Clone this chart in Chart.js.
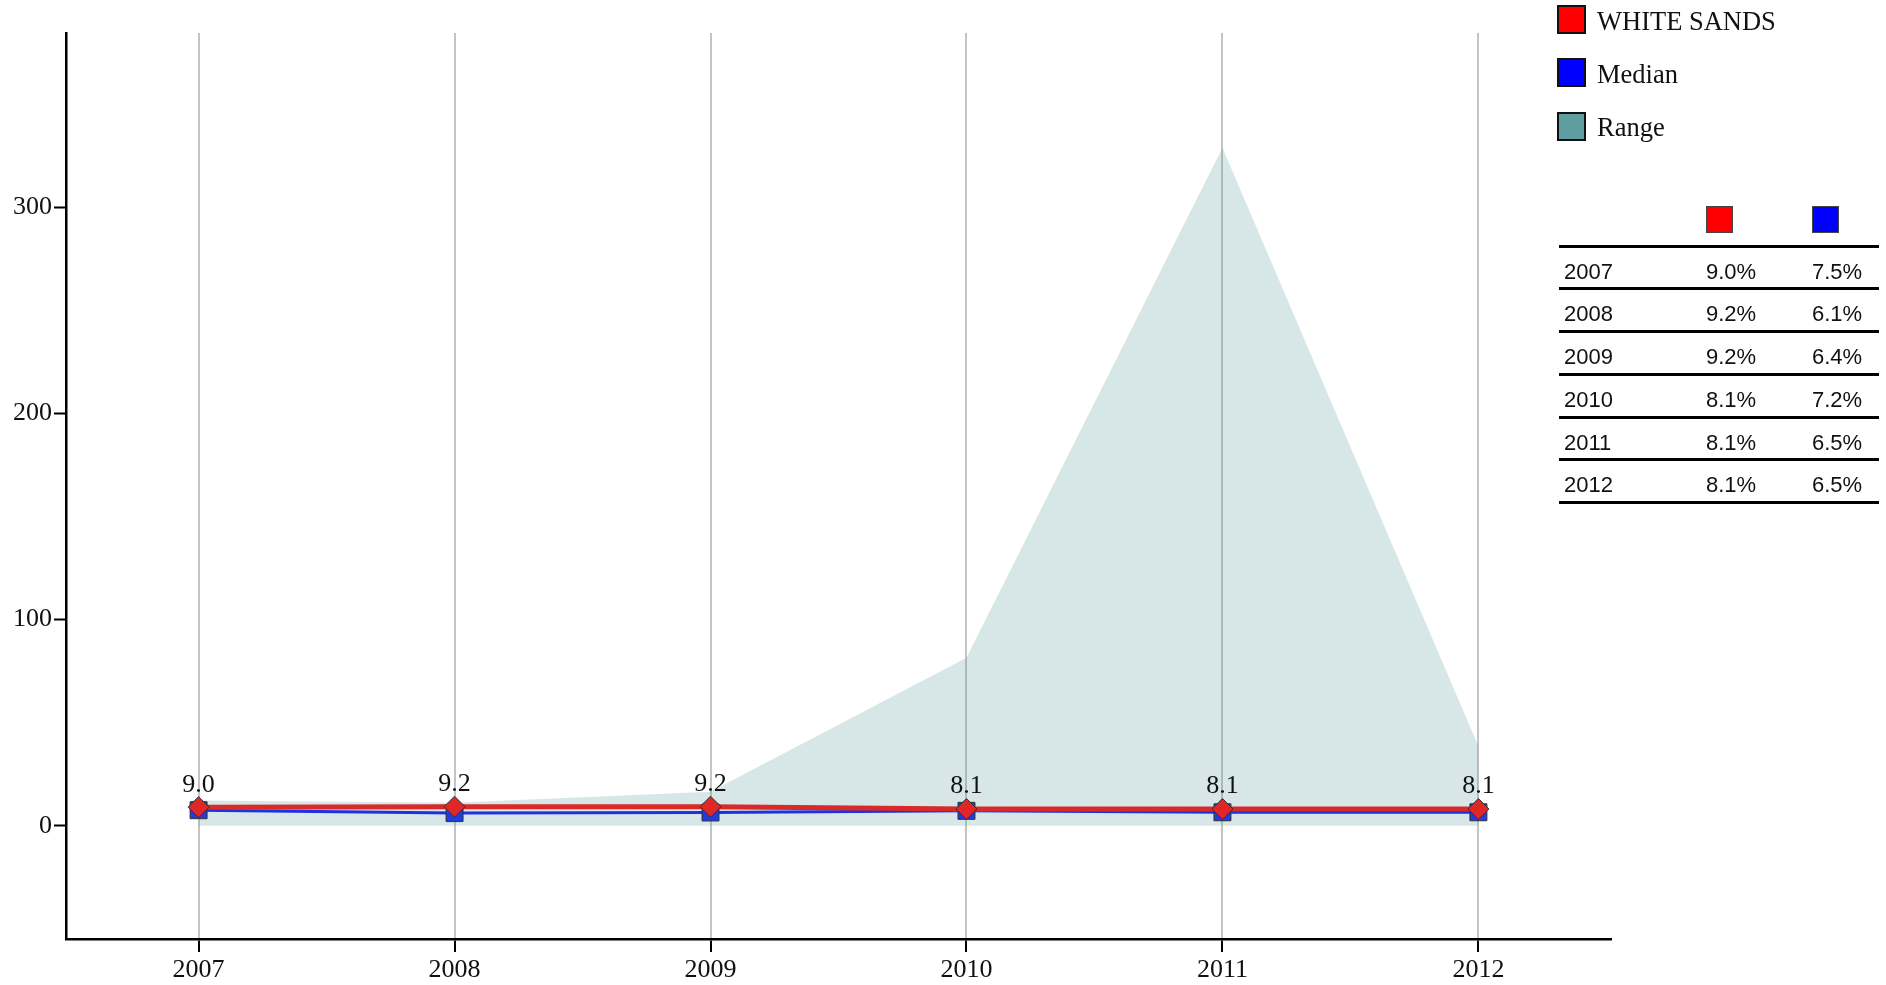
<!DOCTYPE html>
<html>
<head>
<meta charset="utf-8">
<title>WHITE SANDS</title>
<script src="https://cdn.jsdelivr.net/npm/chart.js@4/dist/chart.umd.min.js"></script>
<style>
  html, body { margin: 0; padding: 0; background: #fff; }
  #wrap { position: relative; width: 1886px; height: 985px; overflow: hidden; }
  #chart { position: absolute; left: 0; top: 0; }
  .lg-box { position: absolute; left: 1557px; width: 29px; height: 29px; box-sizing: border-box; border: 2px solid #111; }
  .lg-text { position: absolute; left: 1597px; font: 26.5px "Liberation Serif", "Times New Roman", serif; line-height: 26px; color: #111; white-space: nowrap; }
  .tb-line { position: absolute; left: 1559px; width: 320px; height: 3px; background: #000; }
  .tb-key { position: absolute; top: 206px; width: 27px; height: 27px; box-sizing: border-box; border: 1px solid #444; }
  .tb-cell { position: absolute; font: 22px "Liberation Sans", Arial, sans-serif; line-height: 22px; color: #111; white-space: nowrap; }
</style>
</head>
<body>
<div id="wrap">
  <canvas id="chart" width="1886" height="985"></canvas>
  <div id="legend"></div>
  <div id="table"></div>
</div>
<script>
// yearly values
const years = [2007, 2008, 2009, 2010, 2011, 2012];
const whiteSands = [9.0, 9.2, 9.2, 8.1, 8.1, 8.1];
const median = [7.5, 6.1, 6.4, 7.2, 6.5, 6.5];
const rangeLow = [0, 0, 0, 0, 0, 0];
const rangeHigh = [12.2, 11.1, 16.5, 81.5, 329, 38.5];
const yTicks = [0, 100, 200, 300];
const seriesNames = ["WHITE SANDS", "Median", "Range"];

const RED = "#ff0000";
const BLUE = "#0000ff";
const RANGE = "#5f9ea0";

Chart.defaults.font.family = '"Liberation Serif", "Times New Roman", serif';
Chart.defaults.font.size = 26;
Chart.defaults.color = "#111";

const points = arr => arr.map((v, i) => ({ x: years[i], y: v }));

// writes the value above each WHITE SANDS marker
const valueLabels = {
  id: "valueLabels",
  afterDatasetsDraw(chart) {
    const ctx = chart.ctx;
    const meta = chart.getDatasetMeta(0);
    ctx.save();
    ctx.font = '26px "Liberation Serif", "Times New Roman", serif';
    ctx.fillStyle = "#111";
    ctx.textAlign = "center";
    ctx.textBaseline = "alphabetic";
    meta.data.forEach((pt, i) => {
      ctx.fillText(whiteSands[i].toFixed(1), pt.x, pt.y - 15.5);
    });
    ctx.restore();
  }
};

new Chart(document.querySelector("#chart"), {
  type: "line",
  data: {
    datasets: [
      {
        label: seriesNames[0],
        data: points(whiteSands),
        borderColor: "#d92a2a",
        borderWidth: 5,
        backgroundColor: "#e02626",
        pointStyle: "rectRot",
        pointRadius: 10.5,
        pointBorderColor: "#333",
        pointBorderWidth: 1,
        tension: 0,
        fill: false
      },
      {
        label: seriesNames[1],
        data: points(median),
        borderColor: "#1f30e0",
        borderWidth: 3,
        backgroundColor: "#1f3ddc",
        pointStyle: "rect",
        pointRadius: 12,
        pointBorderColor: "#333",
        pointBorderWidth: 1,
        tension: 0,
        fill: false
      },
      {
        label: "low",
        data: points(rangeLow),
        borderWidth: 0,
        pointRadius: 0,
        fill: false
      },
      {
        label: seriesNames[2],
        data: points(rangeHigh),
        borderWidth: 0,
        pointRadius: 0,
        backgroundColor: "rgba(95, 158, 160, 0.25)",
        fill: "-1"
      }
    ]
  },
  options: {
    responsive: false,
    animation: false,
    devicePixelRatio: 1,
    layout: { padding: { top: 33, right: 275, left: 0, bottom: 0 } },
    plugins: {
      legend: { display: false },
      tooltip: { enabled: false }
    },
    scales: {
      x: {
        type: "linear",
        min: years[0] - 0.518,
        max: years[years.length - 1] + 0.518,
        afterBuildTicks: scale => { scale.ticks = years.map(v => ({ value: v })); },
        afterFit: scale => { scale.height = 46; },
        ticks: { padding: 3, color: "#111", callback: v => String(v) },
        grid: {
          color: "#c4c4c4",
          lineWidth: 2,
          tickLength: 13,
          tickColor: "#000",
          tickWidth: 2
        },
        border: { color: "#000", width: 2.5 }
      },
      y: {
        min: -55,
        max: 384.7,
        afterBuildTicks: scale => { scale.ticks = yTicks.map(v => ({ value: v })); },
        afterFit: scale => { scale.width = 66; },
        ticks: { padding: 2, color: "#111" },
        grid: {
          drawOnChartArea: false,
          color: "#000",
          tickLength: 12,
          tickColor: "#000",
          tickWidth: 2
        },
        border: { color: "#000", width: 2.5 }
      }
    }
  },
  plugins: [valueLabels]
});

// legend at the top right
const legend = document.querySelector("#legend");
const legendColors = [RED, BLUE, RANGE];
seriesNames.forEach((name, i) => {
  const top = 5 + i * 53.3;
  const box = document.createElement("div");
  box.className = "lg-box";
  box.style.top = top + "px";
  box.style.background = legendColors[i];
  legend.appendChild(box);
  const txt = document.createElement("div");
  txt.className = "lg-text";
  txt.style.top = (top + 2.5) + "px";
  txt.textContent = name;
  legend.appendChild(txt);
});

// value table below the legend
const table = document.querySelector("#table");
[[1706, RED], [1812, BLUE]].forEach(([left, color]) => {
  const key = document.createElement("div");
  key.className = "tb-key";
  key.style.left = left + "px";
  key.style.background = color;
  table.appendChild(key);
});
const rowPitch = 42.75;
const addLine = y => {
  const line = document.createElement("div");
  line.className = "tb-line";
  line.style.top = (y - 1.5) + "px";
  table.appendChild(line);
};
addLine(246);
years.forEach((yr, i) => {
  const lineTop = 246 + i * rowPitch;
  const cells = [
    [1564, String(yr)],
    [1706, whiteSands[i].toFixed(1) + "%"],
    [1812, median[i].toFixed(1) + "%"]
  ];
  cells.forEach(([left, text]) => {
    const cell = document.createElement("div");
    cell.className = "tb-cell";
    cell.style.left = left + "px";
    cell.style.top = (lineTop + 14.7) + "px";
    cell.textContent = text;
    table.appendChild(cell);
  });
  addLine(lineTop + rowPitch);
});
</script>
</body>
</html>
